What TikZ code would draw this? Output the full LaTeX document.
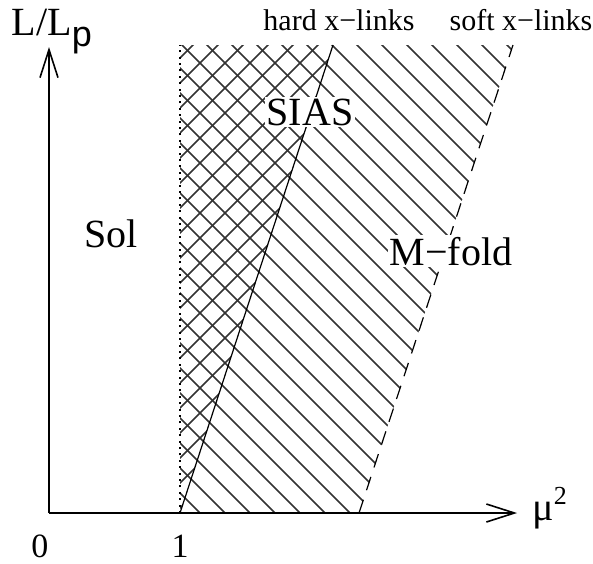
\documentclass[tikz,border=0pt]{standalone}
\usepackage{fontspec}
\setmainfont{Liberation Serif}
\setsansfont{Liberation Sans}
\usetikzlibrary{arrows.meta}

\begin{document}
\begin{tikzpicture}[x=0.5pt,y=-0.5pt,
  axis/.style={line width=1pt,-{Straight Barb[length=14pt,width=9pt,line width=0.8pt]}},
  hatch/.style={line width=0.75pt,black!80},
  big/.style={font=\fontsize{20}{24}\selectfont,inner sep=1pt,anchor=base},
  small/.style={font=\fontsize{15}{17}\selectfont,inner sep=1pt,anchor=base},
  tick/.style={font=\fontsize{17}{20}\selectfont,inner sep=1pt,anchor=base}]
\useasboundingbox (0,0) rectangle (593,563);
% ---- corner points of the regions ----
\coordinate (O) at (49,513);
\coordinate (xend) at (517,513);
\coordinate (yend) at (49,47);
\coordinate (dotbot) at (180,513);
\coordinate (dottop) at (180,45);
\coordinate (hardbot) at (180,513);
\coordinate (hardtop) at (333,45);
\coordinate (softbot) at (359,513);
\coordinate (softtop) at (513,45);
% ---- hatching: one direction over both phases ----
\begin{scope}
\clip (dottop) -- (softtop) -- (softbot) -- (dotbot) -- cycle;
\foreach \k [evaluate=\k as \c using -313+25*\k] in {-1,...,32}
  \draw[hatch] ({\c+40},40) -- ({\c+520},520);
\end{scope}
% ---- cross direction only left of the hard line ----
\begin{scope}
\clip (dottop) -- (hardtop) -- (hardbot) -- cycle;
\foreach \k [evaluate=\k as \c using 213+25*\k] in {0,...,20}
  \draw[hatch] ({\c-40},40) -- ({\c-520},520);
\end{scope}
% ---- boundaries ----
\draw[line width=1pt,dash pattern=on 1pt off 2.2pt] (dotbot) -- (dottop);
\draw[line width=0.6pt] (hardbot) -- (hardtop);
\draw[line width=0.6pt,dash pattern=on 7pt off 5pt] (softbot) -- (softtop);
% ---- axes ----
\draw[axis] (O) -- (xend);
\draw[axis] (O) -- (yend);
% ---- labels ----
\node[big] (ylab) at (52,35) {L/L\raisebox{-5.5pt}{\sffamily\fontsize{18}{20}\selectfont p}};
\node[big,anchor=base west] (xlab) at (530,520) {μ\raisebox{8pt}{\fontsize{13}{14}\selectfont 2}};
\node[tick] (zero) at (40,557) {0};
\node[tick] (one) at (180,557) {1};
\node[small] (hard) at (339,30) {hard x−links};
\node[small] (soft) at (521,30) {soft x−links};
\node[big] (sol) at (111,247) {Sol};
\node[big,fill=white] (sias) at (310,125) {SIAS};
\node[big,fill=white] (mfold) at (451,265) {M−fold};
\end{tikzpicture}
\end{document}
